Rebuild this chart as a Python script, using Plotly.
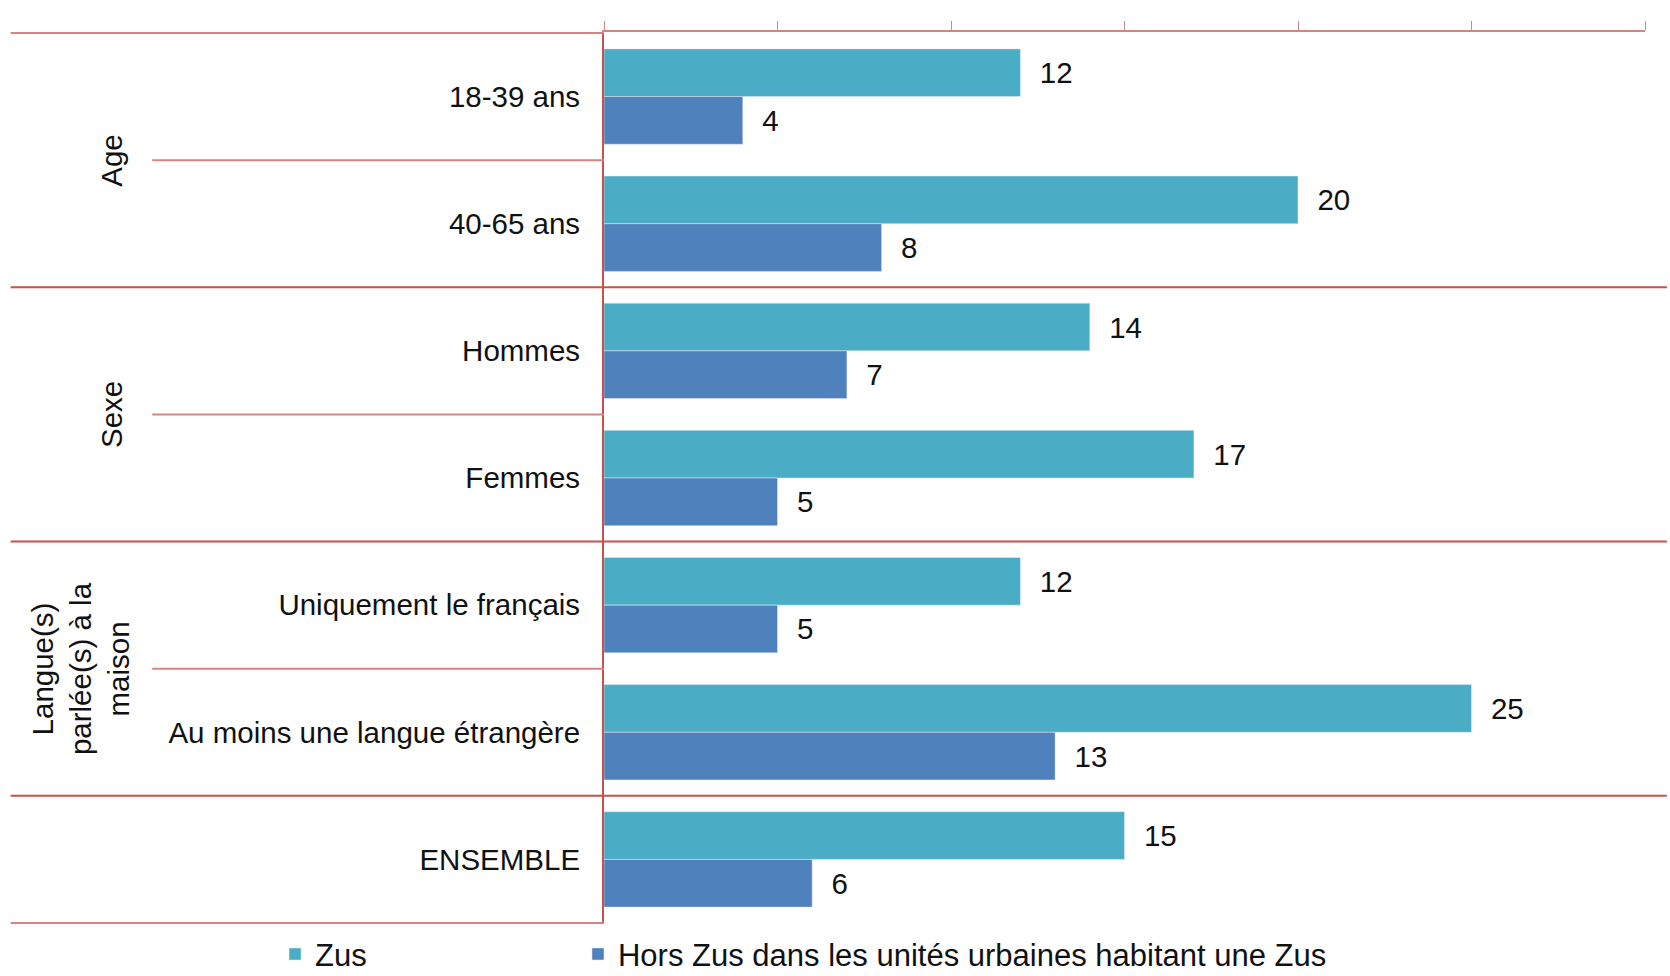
import plotly.graph_objects as go

categories = ["18-39 ans", "40-65 ans", "Hommes", "Femmes",
              "Uniquement le français", "Au moins une langue étrangère", "ENSEMBLE"]
zus = [12, 20, 14, 17, 12, 25, 15]
hors_zus = [4, 8, 7, 5, 5, 13, 6]
groups = ["Age", "Sexe", "Langue(s)<br>parlée(s) à la<br>maison"]
group_pos = [0.5, 2.5, 4.5]
group_x = [-0.473, -0.473, -0.503]
x_ticks = [0, 5, 10, 15, 20, 25, 30]

line_col = "#d48484"
sep_col = "#c9504d"
font = dict(family="Liberation Sans, Arial, sans-serif", size=29.5, color="#111")
leg_font = dict(font, size=31)

fig = go.Figure()
fig.add_trace(go.Bar(y=categories, x=zus, name="Zus", orientation="h",
                     marker_color="#4bacc6", text=zus, texttemplate="  %{x}",
                     textposition="outside", cliponaxis=False, legend="legend"))
fig.add_trace(go.Bar(y=categories, x=hors_zus, name="Hors Zus dans les unités urbaines habitant une Zus",
                     orientation="h", marker_color="#4f81bd", text=hors_zus,
                     texttemplate="  %{x}", textposition="outside", cliponaxis=False,
                     legend="legend2"))

# separators
shapes = []
for yv in [0.5, 2.5, 4.5]:
    shapes.append(dict(type="line", xref="paper", yref="y", x0=-0.434, x1=0,
                       y0=yv, y1=yv, line=dict(color=line_col, width=2)))
for yv in [1.5, 3.5, 5.5]:
    shapes.append(dict(type="line", xref="paper", yref="y", x0=-0.57, x1=1.021,
                       y0=yv, y1=yv, line=dict(color=sep_col, width=2)))
shapes.append(dict(type="line", xref="paper", yref="y", x0=-0.57, x1=0,
                   y0=-0.5, y1=-0.5, line=dict(color=line_col, width=2)))
shapes.append(dict(type="line", xref="paper", yref="y", x0=-0.57, x1=0,
                   y0=6.5, y1=6.5, line=dict(color=line_col, width=2)))

annotations = [dict(text=g, xref="paper", yref="y", x=gx, y=p, textangle=-90,
                    xanchor="center", yanchor="middle",
                    showarrow=False, font=font, align="center")
               for g, p, gx in zip(groups, group_pos, group_x)]

leg = dict(orientation="h", y=-0.034, yanchor="middle",
           xanchor="left", font=leg_font, bgcolor="rgba(0,0,0,0)")
fig.update_layout(
    width=1670, height=976,
    margin=dict(l=604, r=25, t=32, b=52, autoexpand=False),
    paper_bgcolor="white", plot_bgcolor="white",
    barmode="group", bargap=0.25, bargroupgap=0,
    font=font, showlegend=True,
    uniformtext=dict(minsize=29, mode="show"),
    legend=dict(leg, x=-0.316),
    legend2=dict(leg, x=-0.025),
    shapes=shapes, annotations=annotations,
)
fig.update_xaxes(range=[0, 30], side="top", tickvals=x_ticks, showticklabels=False,
                 ticks="outside", ticklen=9, tickcolor=line_col, showgrid=False,
                 showline=True, linecolor=line_col, linewidth=2, zeroline=False)
fig.update_yaxes(autorange="reversed", showline=True, linecolor=sep_col, linewidth=2,
                 ticks="", ticklabelstandoff=16, showgrid=False, tickfont=font)

fig.write_html("out.html", config={"displayModeBar": False},
               post_script="document.body.style.margin='0';")
